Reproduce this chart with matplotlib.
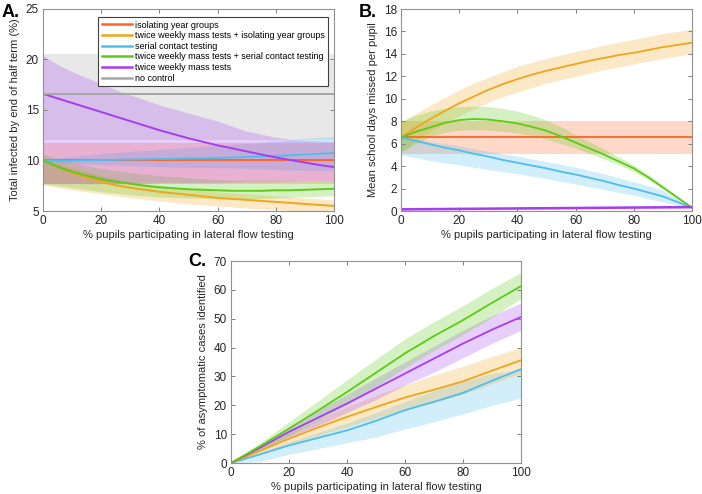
import matplotlib
matplotlib.use("Agg")
import matplotlib.pyplot as plt

plt.rcParams['font.family'] = ['Liberation Sans', 'DejaVu Sans']

# x grids (% pupils participating)
xf = [0, 5, 10, 15, 20, 25, 30, 35, 40, 45, 50, 55, 60, 65, 70, 75, 80, 85, 90, 95, 100]
xc = [0, 10, 20, 30, 40, 50, 60, 70, 80, 90, 100]

labels = ["isolating year groups",
          "twice weekly mass tests + isolating year groups",
          "serial contact testing",
          "twice weekly mass tests + serial contact testing",
          "twice weekly mass tests",
          "no control"]
colors = ['#FF6426', '#EFA61C', '#4DBEEE', '#5BCB14', '#A63DF2', '#A6A6A6']

# ---- Panel A: total infected by end of half term (%) ----
A_iso = [10.0] * 21
A_iso_lo = [7.7] * 21
A_iso_hi = [11.7] * 21
A_miso = [10.0, 9.35, 8.8, 8.3, 7.9, 7.55, 7.3, 7.1, 6.9, 6.75, 6.6, 6.45, 6.3, 6.2, 6.1, 6.0, 5.9, 5.8, 5.7, 5.6, 5.5]
A_miso_lo = [7.6, 7.3, 7.1, 6.9, 6.7, 6.5, 6.3, 6.15, 6.0, 5.85, 5.7, 5.6, 5.5, 5.4, 5.3, 5.2, 5.1, 5.05, 5.0, 4.95, 4.9]
A_miso_hi = [10.2, 9.7, 9.3, 8.9, 8.5, 8.2, 7.9, 7.7, 7.5, 7.35, 7.2, 7.05, 6.9, 6.8, 6.7, 6.6, 6.5, 6.4, 6.3, 6.2, 6.1]
A_ser = [10.0, 10.0, 10.0, 10.02, 10.05, 10.07, 10.1, 10.12, 10.15, 10.17, 10.2, 10.22, 10.25, 10.3, 10.35, 10.4, 10.45, 10.52, 10.6, 10.67, 10.75]
A_ser_lo = [9.9, 9.8, 9.7, 9.65, 9.6, 9.55, 9.5, 9.45, 9.4, 9.35, 9.3, 9.3, 9.3, 9.25, 9.2, 9.15, 9.1, 9.05, 9.0, 9.0, 9.0]
A_ser_hi = [10.1, 10.25, 10.4, 10.55, 10.7, 10.8, 10.9, 11.0, 11.1, 11.2, 11.3, 11.4, 11.5, 11.6, 11.7, 11.8, 11.9, 12.05, 12.2, 12.3, 12.4]
A_mser = [10.0, 9.4, 8.9, 8.5, 8.15, 7.9, 7.7, 7.5, 7.35, 7.25, 7.15, 7.1, 7.05, 7.0, 7.0, 7.0, 7.05, 7.05, 7.1, 7.15, 7.2]
A_mser_lo = [7.7, 7.5, 7.3, 7.1, 6.9, 6.75, 6.6, 6.5, 6.4, 6.35, 6.3, 6.25, 6.2, 6.2, 6.2, 6.25, 6.3, 6.35, 6.4, 6.45, 6.5]
A_mser_hi = [10.6, 10.2, 9.8, 9.5, 9.2, 9.0, 8.8, 8.65, 8.5, 8.4, 8.3, 8.2, 8.1, 8.05, 8.0, 8.0, 8.0, 8.0, 8.0, 8.0, 8.0]
A_mass = [16.6, 16.15, 15.7, 15.25, 14.8, 14.35, 13.9, 13.45, 13.0, 12.6, 12.2, 11.85, 11.5, 11.2, 10.9, 10.6, 10.3, 10.05, 9.8, 9.55, 9.35]
A_mass_lo = [7.7, 7.7, 7.7, 7.7, 7.7, 7.7, 7.7, 7.75, 7.8, 7.8, 7.8, 7.8, 7.8, 7.85, 7.9, 7.9, 7.9, 7.95, 8.0, 8.0, 8.0]
A_mass_hi = [20.4, 19.5, 18.8, 18.2, 17.6, 17.0, 16.5, 16.0, 15.5, 15.1, 14.7, 14.3, 13.9, 13.4, 12.9, 12.6, 12.3, 12.1, 12.0, 11.95, 11.9]
A_none = [16.6] * 21
A_none_lo = [12.0] * 21
A_none_hi = [20.5] * 21

# ---- Panel B: mean school days missed per pupil ----
B_iso = [6.55] * 21
B_iso_lo = [5.05] * 21
B_iso_hi = [8.05] * 21
B_miso = [6.55, 7.4, 8.2, 8.9, 9.6, 10.2, 10.8, 11.3, 11.75, 12.15, 12.5, 12.8, 13.1, 13.4, 13.65, 13.9, 14.1, 14.35, 14.6, 14.8, 15.0]
B_miso_lo = [5.3, 6.2, 7.1, 7.8, 8.5, 9.1, 9.7, 10.2, 10.6, 11.0, 11.4, 11.7, 12.0, 12.3, 12.6, 12.85, 13.1, 13.35, 13.6, 13.8, 14.0]
B_miso_hi = [7.9, 8.7, 9.4, 10.1, 10.8, 11.4, 11.9, 12.4, 12.9, 13.25, 13.6, 13.9, 14.2, 14.5, 14.8, 15.05, 15.3, 15.55, 15.8, 16.0, 16.2]
B_ser = [6.55, 6.25, 5.95, 5.65, 5.4, 5.1, 4.85, 4.55, 4.3, 4.05, 3.8, 3.5, 3.25, 2.95, 2.65, 2.3, 2.0, 1.65, 1.3, 0.8, 0.3]
B_ser_lo = [5.0, 4.75, 4.5, 4.3, 4.1, 3.9, 3.7, 3.5, 3.3, 3.1, 2.9, 2.65, 2.4, 2.15, 1.9, 1.65, 1.4, 1.1, 0.8, 0.55, 0.3]
B_ser_hi = [6.6, 6.4, 6.2, 6.0, 5.8, 5.55, 5.3, 5.1, 4.9, 4.65, 4.4, 4.15, 3.9, 3.6, 3.3, 2.95, 2.6, 2.25, 1.85, 1.1, 0.3]
B_mser = [6.55, 7.05, 7.45, 7.85, 8.1, 8.2, 8.15, 8.0, 7.8, 7.5, 7.15, 6.65, 6.1, 5.55, 5.0, 4.4, 3.8, 3.0, 2.1, 1.2, 0.3]
B_mser_lo = [5.2, 6.0, 6.6, 7.0, 7.2, 7.25, 7.2, 7.1, 6.95, 6.7, 6.4, 6.0, 5.6, 5.1, 4.6, 4.1, 3.5, 2.8, 1.95, 1.1, 0.3]
B_mser_hi = [8.0, 8.5, 8.9, 9.15, 9.3, 9.35, 9.3, 9.15, 8.9, 8.55, 8.1, 7.5, 6.8, 6.15, 5.5, 4.8, 4.1, 3.25, 2.3, 1.3, 0.3]
B_mass = [0.15, 0.16, 0.17, 0.18, 0.19, 0.2, 0.21, 0.22, 0.23, 0.24, 0.25, 0.26, 0.27, 0.28, 0.29, 0.3, 0.31, 0.32, 0.33, 0.34, 0.35]
B_mass_lo = [0.05, 0.06, 0.07, 0.08, 0.09, 0.1, 0.11, 0.12, 0.13, 0.14, 0.15, 0.16, 0.17, 0.18, 0.19, 0.2, 0.21, 0.22, 0.23, 0.24, 0.25]
B_mass_hi = [0.25, 0.26, 0.27, 0.28, 0.29, 0.3, 0.31, 0.32, 0.33, 0.34, 0.35, 0.36, 0.37, 0.38, 0.39, 0.4, 0.41, 0.42, 0.43, 0.44, 0.45]

# ---- Panel C: % of asymptomatic cases identified ----
C_miso = [0, 4.2, 8.4, 12.3, 16.0, 19.4, 22.7, 25.4, 28.3, 32.0, 35.6]
C_miso_lo = [0, 3.3, 6.5, 9.5, 12.5, 15.5, 18.3, 21.0, 23.8, 27.5, 31.0]
C_miso_hi = [0, 5.3, 10.5, 15.0, 19.5, 23.5, 27.0, 30.5, 33.5, 37.0, 40.0]
C_ser = [0, 3.0, 6.1, 8.7, 11.3, 14.6, 18.3, 21.2, 24.3, 28.5, 32.5]
C_ser_lo = [0, 0.5, 3.0, 5.0, 7.0, 9.0, 11.8, 14.3, 17.0, 20.0, 22.5]
C_ser_hi = [0, 3.7, 7.3, 10.6, 13.8, 17.5, 21.3, 25.0, 28.3, 31.0, 32.5]
C_mser = [0, 5.8, 11.9, 18.2, 24.6, 31.3, 38.0, 44.0, 49.5, 55.5, 61.3]
C_mser_lo = [0, 4.5, 9.5, 14.8, 20.3, 26.5, 33.0, 39.0, 44.5, 50.5, 57.0]
C_mser_hi = [0, 7.0, 14.3, 21.5, 28.8, 36.0, 43.0, 49.0, 54.5, 60.5, 66.0]
C_mass = [0, 5.3, 10.8, 15.7, 20.6, 25.8, 31.0, 36.2, 41.4, 46.2, 50.6]
C_mass_lo = [0, 4.5, 9.0, 13.0, 17.5, 22.0, 27.0, 31.5, 36.5, 41.5, 46.0]
C_mass_hi = [0, 6.2, 12.5, 18.3, 23.8, 29.5, 35.0, 40.5, 46.0, 51.0, 55.5]

W, H = 702, 494
fig = plt.figure(figsize=(W / 100, H / 100), dpi=100)

def make_ax(l, t, r, b):
    return fig.add_axes([l / W, 1 - b / H, (r - l) / W, (b - t) / H])

axA = make_ax(43, 9, 334, 211)
axB = make_ax(401, 9, 692, 211)
axC = make_ax(231, 261, 521, 463)

def style(ax, ylim, yticks, ylabel):
    ax.set_xlim(0, 100)
    ax.set_ylim(*ylim)
    ax.set_xticks([0, 20, 40, 60, 80, 100])
    ax.set_yticks(yticks)
    ax.tick_params(direction='in', length=3, width=0.7, top=True, right=True,
                   labelsize=8.5, colors='#808080', labelcolor='#262626', pad=3)
    for s in ax.spines.values():
        s.set_color('#909090')
        s.set_linewidth(0.8)
    ax.set_xlabel('% pupils participating in lateral flow testing', fontsize=8,
                  color='#262626', labelpad=2)
    ax.set_ylabel(ylabel, fontsize=8, color='#262626', labelpad=4)

# Panel A
bandsA = [(A_none_lo, A_none_hi, colors[5]),
          (A_iso_lo, A_iso_hi, colors[0]),
          (A_miso_lo, A_miso_hi, colors[1]),
          (A_ser_lo, A_ser_hi, colors[2]),
          (A_mser_lo, A_mser_hi, colors[3]),
          (A_mass_lo, A_mass_hi, colors[4])]
for lo, hi, c in bandsA:
    axA.fill_between(xf, lo, hi, color=c, alpha=0.25, linewidth=0)
linesA = [(A_iso, 0), (A_miso, 1), (A_ser, 2), (A_mser, 3), (A_mass, 4), (A_none, 5)]
for y, i in linesA:
    axA.plot(xf, y, color=colors[i], lw=1.4, label=labels[i])
style(axA, (5, 25), [5, 10, 15, 20, 25], 'Total infected by end of half term (%)')
leg = axA.legend(loc='upper right', bbox_to_anchor=((328 - 43) / 291, (211 - 17) / 202),
                 borderaxespad=0, fontsize=6.5, frameon=True, fancybox=False,
                 edgecolor='#404040', framealpha=1, handlelength=3.3,
                 handletextpad=0.3, labelspacing=0.18, borderpad=0.4)
leg.get_frame().set_linewidth(0.8)
for h in leg.get_lines():
    h.set_linewidth(1.8)

# Panel B
bandsB = [(B_iso_lo, B_iso_hi, colors[0]),
          (B_miso_lo, B_miso_hi, colors[1]),
          (B_ser_lo, B_ser_hi, colors[2]),
          (B_mser_lo, B_mser_hi, colors[3]),
          (B_mass_lo, B_mass_hi, colors[4])]
for lo, hi, c in bandsB:
    axB.fill_between(xf, lo, hi, color=c, alpha=0.25, linewidth=0)
for y, i in [(B_iso, 0), (B_miso, 1), (B_ser, 2), (B_mser, 3), (B_mass, 4)]:
    axB.plot(xf, y, color=colors[i], lw=1.3 if i != 4 else 1.8)
style(axB, (0, 18), list(range(0, 19, 2)), 'Mean school days missed per pupil')

# Panel C
bandsC = [(C_ser_lo, C_ser_hi, colors[2]),
          (C_miso_lo, C_miso_hi, colors[1]),
          (C_mass_lo, C_mass_hi, colors[4]),
          (C_mser_lo, C_mser_hi, colors[3])]
for lo, hi, c in bandsC:
    axC.fill_between(xc, lo, hi, color=c, alpha=0.25, linewidth=0)
for y, i in [(C_ser, 2), (C_miso, 1), (C_mass, 4), (C_mser, 3)]:
    axC.plot(xc, y, color=colors[i], lw=1.3)
style(axC, (0, 70), list(range(0, 71, 10)), '% of asymptomatic cases identified')

# Panel letters
for txt, px, py in [('A.', 2, 17), ('B.', 359, 17), ('C.', 188, 266)]:
    fig.text(px / W, 1 - py / H, txt, fontsize=13, fontweight='bold',
             ha='left', va='baseline', color='black')

fig.savefig('out.png', dpi=100)
